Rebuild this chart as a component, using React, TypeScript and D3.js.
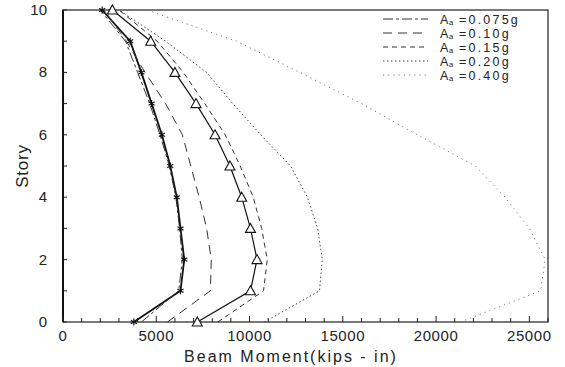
import * as d3 from 'd3'

const STORIES = [0, 1, 2, 3, 4, 5, 6, 7, 8, 9, 10]
// two solid reference curves (no legend entry)
const STAR_LINE = [3800, 6300, 6500, 6300, 6100, 5750, 5300, 4750, 4200, 3600, 2100]
const TRI_LINE = [7200, 10050, 10400, 10050, 9580, 8950, 8150, 7130, 6000, 4700, 2650]
const A075 = [4200, 6200, 6400, 6250, 6050, 5700, 5200, 4650, 4000, 3350, 2000]
const A10 = [5600, 7900, 7950, 7700, 7300, 6850, 6400, 5500, 4400, 3400, 2200]
const A15 = [8300, 10750, 10950, 10650, 10200, 9500, 8700, 7600, 6450, 5050, 3000]
const A20 = [10800, 13750, 13900, 13650, 13100, 12200, 10600, 9100, 7700, 5500, 3000]
const A40 = [21300, 25600, 25850, 25000, 23700, 22100, 19000, 16000, 12700, 9300, 4500]

const X_TICKS = [0, 5000, 10000, 15000, 20000, 25000]
const Y_TICKS = [0, 2, 4, 6, 8, 10]

const SERIES = [
  { label: '=0.075g', values: A075, dash: '10,3,3,3', color: '#333' },
  { label: '=0.10g', values: A10, dash: '9,6', color: '#333' },
  { label: '=0.15g', values: A15, dash: '5,4', color: '#333' },
  { label: '=0.20g', values: A20, dash: '1.5,2.5', color: '#444' },
  { label: '=0.40g', values: A40, dash: '1.2,4', color: '#777' },
]

const W = 565
const H = 367
const pad = { l: 63, r: 17, t: 10, b: 45 }
const FONT = '"Liberation Sans", Arial, sans-serif'

export default function App() {
  const x = d3.scaleLinear().domain([0, 26000]).range([pad.l, W - pad.r])
  const y = d3.scaleLinear().domain([0, 10]).range([H - pad.b, pad.t])
  const line = d3.line<number>().x(d => x(d)).y((_, i) => y(STORIES[i]))

  const minorX = d3.range(0, 26001, 1000)
  const minorY = d3.range(0, 11, 1)

  const star = (cx: number, cy: number, k: number) => {
    const r = 3.5
    return [0, 60, 120].map(a => {
      const rad = (a * Math.PI) / 180
      const dx = r * Math.sin(rad), dy = r * Math.cos(rad)
      return <line key={k + '-' + a} x1={cx - dx} y1={cy - dy} x2={cx + dx} y2={cy + dy} stroke="#111" strokeWidth={1.2} />
    })
  }

  const legX = 383
  const legY0 = 19
  const legDy = 14

  return (
    <svg width={W} height={H} style={{ position: 'absolute', left: 0, top: 0, background: '#fff' }}>
      {/* frame */}
      <rect x={pad.l} y={pad.t} width={W - pad.r - pad.l} height={H - pad.b - pad.t} fill="none" stroke="#222" strokeWidth={1.2} />
      <line x1={pad.l} x2={pad.l} y1={pad.t} y2={H - pad.b} stroke="#111" strokeWidth={2} />

      {/* ticks */}
      {minorX.map(v => (
        <line key={'tx' + v} x1={x(v)} x2={x(v)} y1={H - pad.b} y2={H - pad.b - (v % 5000 === 0 ? 6 : 4)} stroke="#222" />
      ))}
      {minorY.map(v => (
        <line key={'ty' + v} x1={pad.l} x2={pad.l + 4} y1={y(v)} y2={y(v)} stroke="#222" />
      ))}
      {X_TICKS.map(v => (
        <text key={'lx' + v} x={x(v)} y={H - pad.b + 19} textAnchor="middle" fontSize={15} fontFamily={FONT} fill="#222" letterSpacing={0.6}>{v}</text>
      ))}
      {Y_TICKS.map(v => (
        <text key={'ly' + v} x={pad.l - 16} y={y(v) + 5} textAnchor="end" fontSize={15} fontFamily={FONT} fill="#222">{v}</text>
      ))}
      <text x={291} y={362} textAnchor="middle" fontSize={16} fontFamily={FONT} fill="#222" letterSpacing={2}>Beam  Moment(kips - in)</text>
      <text transform={`translate(28,${(pad.t + H - pad.b) / 2}) rotate(-90)`} textAnchor="middle" fontSize={17} fontFamily={FONT} fill="#222" letterSpacing={0.8}>Story</text>

      {/* curves */}
      <path d={line(STAR_LINE) ?? ''} fill="none" stroke="#111" strokeWidth={1.8} />
      <path d={line(TRI_LINE) ?? ''} fill="none" stroke="#111" strokeWidth={1.2} />
      {SERIES.map(s => (
        <path key={s.label} d={line(s.values) ?? ''} fill="none" stroke={s.color} strokeWidth={1} strokeDasharray={s.dash} />
      ))}
      {STAR_LINE.map((v, i) => star(x(v), y(STORIES[i]), i))}
      {TRI_LINE.map((v, i) => {
        const cx = x(v), cy = y(STORIES[i])
        return <path key={'tri' + i} d={`M${cx},${cy - 5}L${cx + 5},${cy + 4}L${cx - 5},${cy + 4}Z`} fill="#fff" stroke="#111" strokeWidth={1.1} />
      })}

      {/* legend */}
      {SERIES.map((s, i) => {
        const ly = legY0 + i * legDy
        return (
          <g key={'leg' + i}>
            <line x1={legX} x2={legX + 45} y1={ly} y2={ly} stroke={s.color} strokeDasharray={s.dash} />
            <text x={legX + 57} y={ly + 4.5} fontSize={12.5} fontFamily={FONT} fill="#222">A</text>
            <text x={legX + 66} y={ly + 5.5} fontSize={7.5} fontFamily={FONT} fill="#222">a</text>
            <text x={legX + 76} y={ly + 4.5} fontSize={12.5} fontFamily={FONT} fill="#222" letterSpacing={2.2}>{s.label}</text>
          </g>
        )
      })}
    </svg>
  )
}
